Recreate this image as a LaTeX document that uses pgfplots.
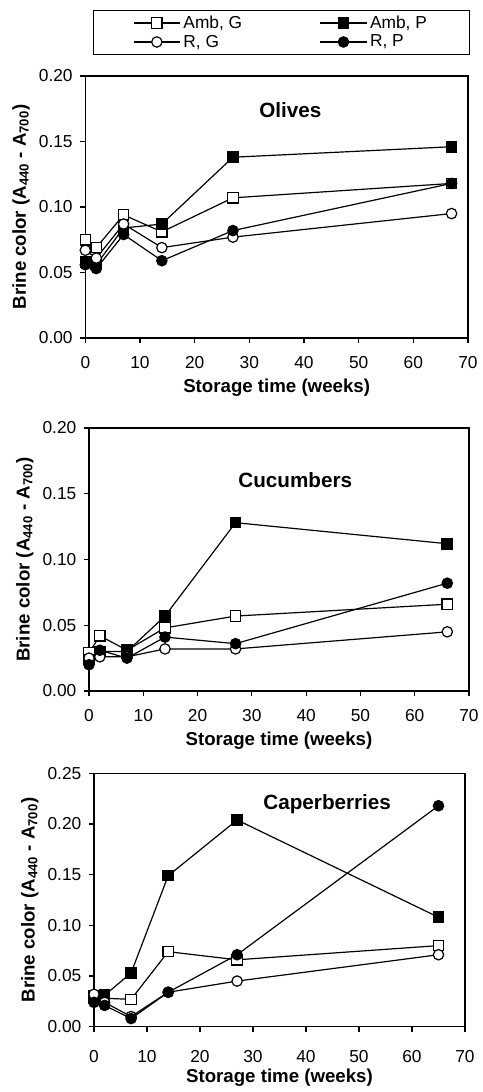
\documentclass[border=0pt]{standalone}
\usepackage{pgfplots}
\pgfplotsset{compat=1.18}
\usepackage{fontspec}
\setmainfont{Liberation Sans}

\pgfplotsset{
  panel/.style={
    scale only axis,
    anchor=north west,
    xmin=0, xmax=70,
    xtick={0,10,...,70},
    tick pos=left,
    tick align=outside,
    major tick length=4pt,
    axis line style={line width=0.9pt},
    every tick/.style={line width=0.9pt, black},
    /pgf/number format/assume math mode=true,
    ticklabel style={font=\fontsize{13}{15}\selectfont},
    xticklabel style={yshift=-6pt},
    yticklabel style={xshift=-2pt, /pgf/number format/fixed, /pgf/number format/fixed zerofill, /pgf/number format/precision=2},
    xlabel={\bfseries Storage time (weeks)},
    ylabel={\bfseries Brine color (A\textsubscript{440} - A\textsubscript{700})},
    label style={font=\fontsize{14}{16}\selectfont},
    xlabel style={yshift=-1pt},
    clip=false,
  },
  sG/.style={black, line width=0.9pt, mark=square*, mark size=3.9pt, mark options={fill=white, line width=0.9pt}},
  sP/.style={black, line width=0.9pt, mark=square*, mark size=3.9pt, mark options={fill=black}},
  cG/.style={black, line width=0.9pt, mark=*, mark size=3.9pt, mark options={fill=white, line width=0.9pt}},
  cP/.style={black, line width=0.9pt, mark=*, mark size=3.9pt, mark options={fill=black}},
}

\begin{document}
\begin{tikzpicture}
\path[use as bounding box] (0,0) rectangle (361.5pt,-819pt);

% Olives
\begin{axis}[panel,
  at={(64pt,-57pt)}, width=287pt, height=196.5pt,
  ymin=0, ymax=0.20, ytick={0,0.05,...,0.20},
  legend columns=2,
  legend cell align=left,
  legend style={at={(0.512,1.252)}, anchor=north, draw=black, line width=0.6pt,
    font=\fontsize{13}{13}\selectfont, inner xsep=30pt, inner ysep=2pt,
    /tikz/every even column/.append style={column sep=56pt},
    row sep=-0.5pt},
  legend image code/.code={\draw[mark repeat=2, mark phase=2] plot coordinates {(0pt,0pt) (17.5pt,0pt) (35pt,0pt)};},
]
\addplot[sG] coordinates {(0,0.075) (2,0.069) (7,0.094) (14,0.081) (27,0.107) (67,0.118)};
\addlegendentry{Amb, G}
\addplot[sP] coordinates {(0,0.058) (2,0.056) (7,0.084) (14,0.087) (27,0.138) (67,0.146)};
\addlegendentry{Amb, P}
\addplot[cG] coordinates {(0,0.067) (2,0.061) (7,0.087) (14,0.069) (27,0.077) (67,0.095)};
\addlegendentry{R, G}
\addplot[cP] coordinates {(0,0.056) (2,0.053) (7,0.079) (14,0.059) (27,0.082) (67,0.118)};
\addlegendentry{R, P}
\node[font=\bfseries\fontsize{15.5}{17}\selectfont] at (axis cs:37.5,0.174) {Olives};
\end{axis}

% Cucumbers
\begin{axis}[panel,
  at={(66.75pt,-321pt)}, width=285pt, height=197.25pt,
  ymin=0, ymax=0.20, ytick={0,0.05,...,0.20},
]
\addplot[sG] coordinates {(0,0.029) (2,0.042) (7,0.031) (14,0.048) (27,0.057) (66,0.066)};
\addplot[sP] coordinates {(0,0.024) (2,0.030) (7,0.030) (14,0.057) (27,0.128) (66,0.112)};
\addplot[cG] coordinates {(0,0.025) (2,0.026) (7,0.026) (14,0.032) (27,0.032) (66,0.045)};
\addplot[cP] coordinates {(0,0.020) (2,0.031) (7,0.025) (14,0.041) (27,0.036) (66,0.082)};
\node[font=\bfseries\fontsize{15.5}{17}\selectfont] at (axis cs:38,0.160) {Cucumbers};
\end{axis}

% Caperberries
\begin{axis}[panel,
  at={(70.5pt,-580pt)}, width=278.25pt, height=190pt,
  ymin=0, ymax=0.25, ytick={0,0.05,...,0.25},
  xticklabel style={yshift=-4pt},
  xlabel style={yshift=3pt},
]
\addplot[sG] coordinates {(0,0.030) (2,0.028) (7,0.027) (14,0.074) (27,0.066) (65,0.080)};
\addplot[sP] coordinates {(0,0.028) (2,0.031) (7,0.053) (14,0.149) (27,0.204) (65,0.108)};
\addplot[cG] coordinates {(0,0.032) (2,0.024) (7,0.010) (14,0.034) (27,0.045) (65,0.071)};
\addplot[cP] coordinates {(0,0.024) (2,0.021) (7,0.008) (14,0.034) (27,0.071) (65,0.218)};
\node[font=\bfseries\fontsize{15.5}{17}\selectfont] at (axis cs:44,0.220) {Caperberries};
\end{axis}
\end{tikzpicture}
\end{document}
